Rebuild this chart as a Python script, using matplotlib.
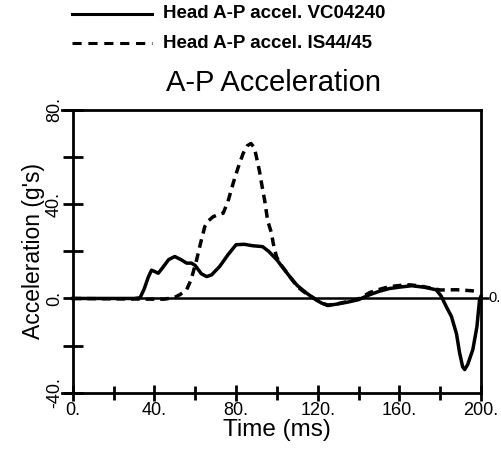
import matplotlib
matplotlib.use("Agg")
import matplotlib.pyplot as plt
from matplotlib.lines import Line2D
from matplotlib.ticker import FixedLocator

plt.rcParams['font.family'] = ['Liberation Sans', 'DejaVu Sans']

# Data (time in ms, acceleration in g's)
t_vc = [0, 30, 33, 35, 37, 38.6, 40, 41.9, 44, 47, 50, 53, 55.8, 58.2, 60, 63, 65.6, 68, 72, 76, 80,
        84, 88, 93, 96, 100, 103, 106.3, 110, 114.5, 119, 122, 125, 130, 135, 140, 145.5, 150, 155,
        160, 166, 172, 178, 180.5, 183, 185.5, 188, 189.5, 191, 192, 193.5, 196, 198, 199.3, 200]
a_vc = [0, 0, 0.3, 4, 9, 12, 11.5, 10.7, 13, 16.5, 17.8, 16.5, 15, 15, 14, 10.5, 9.3, 10, 13.6, 18.5, 22.8,
        23, 22.4, 22, 20, 16.4, 13, 9.3, 5.5, 2.3, -0.5, -2, -3, -2.3, -1.5, -0.5, 1.6, 3, 4.2,
        4.8, 5.4, 4.8, 3.7, 1, -3.5, -7.6, -15, -23, -29, -30.2, -28, -21.7, -12, -0.5, 1]

t_is = [0, 40, 45, 50, 52.5, 55.8, 58, 60.7, 62.5, 64.7, 66.5, 68.8, 71, 73.7, 76, 78.6, 81, 83.5, 85.5,
        87.3, 89, 90, 91.5, 92.5, 94, 95.5, 97.4, 98.2, 99.8, 101.4, 104, 106.3, 110, 114.5, 119, 122,
        125, 130, 135, 140, 145.5, 150, 155, 160, 165, 170, 175, 180, 188, 195, 199.3]
a_is = [0, -0.3, -0.3, 0.5, 1.6, 3.7, 8, 16.4, 23, 30.5, 33, 34.7, 35.5, 36.2, 41, 48.9, 55.5, 61.6, 64.8,
        65.8, 64, 60, 54, 48.9, 41.8, 33, 27.7, 23.5, 17.8, 15, 12, 9.3, 5, 2, -0.3, -2,
        -2.8, -2.2, -1.2, -0.2, 2.5, 3.8, 5, 5.5, 5.8, 5.3, 4.5, 3.6, 3.7, 3.3, 3]

x_major = [0, 40, 80, 120, 160, 200]
x_labels = ['0.', '40.', '80.', '120.', '160.', '200.']
x_minor = [20, 60, 100, 140, 180]
y_major = [80, 40, 0, -40]
y_labels = ['80.', '40.', '0.', '-40.']
y_minor = [60, 20, -20]

legend_labels = ['Head A-P accel. VC04240', 'Head A-P accel. IS44/45']
title = 'A-P Acceleration'

W, H = 501, 449
fig = plt.figure(figsize=(W / 100, H / 100), dpi=100)
ax = fig.add_axes([72.7 / W, 1 - 392.7 / H, (481 - 72.7) / W, (392.7 - 110) / H])

lw = 2.5
ax.plot(t_vc, a_vc, color='black', lw=lw, solid_joinstyle='round', clip_on=False, zorder=3)
ax.plot(t_is, a_is, color='black', lw=lw, dashes=(2.5, 1.7), clip_on=False, zorder=3)
ax.axhline(0, xmin=0, xmax=1.018, color='black', lw=1.8, clip_on=False, zorder=2)

ax.set_xlim(0, 200)
ax.set_ylim(-40, 80)

for s in ax.spines.values():
    s.set_linewidth(2.0)
# extend bottom/top lines slightly left like the reference
ax.axhline(-40, xmin=-0.026, xmax=0, color='black', lw=2.0, clip_on=False)
ax.axhline(80, xmin=-0.026, xmax=0, color='black', lw=2.0, clip_on=False)

ax.xaxis.set_major_locator(FixedLocator(x_major))
ax.xaxis.set_minor_locator(FixedLocator(x_minor))
ax.set_xticklabels(x_labels)
ax.yaxis.set_major_locator(FixedLocator(y_major))
ax.yaxis.set_minor_locator(FixedLocator(y_minor))
ax.set_yticklabels(y_labels, rotation=90, va='center')

ax.tick_params(axis='x', which='major', direction='inout', length=11, width=2, labelsize=13, pad=1)
ax.tick_params(axis='x', which='minor', direction='inout', length=10, width=2)
ax.tick_params(axis='y', which='major', direction='inout', length=14, width=2, labelsize=13, pad=0)
ax.tick_params(axis='y', which='minor', direction='inout', length=14, width=2)

ax.set_xlabel('Time (ms)', fontsize=17.5, labelpad=0)
ax.set_ylabel("Acceleration (g's)", fontsize=16.5, labelpad=1)

ax.text(1.019, 0, '0.', transform=ax.get_yaxis_transform(), fontsize=10.5, va='center', ha='left',
        clip_on=False)

# legend drawn manually
fig.add_artist(Line2D([72 / W, 152 / W], [1 - 14 / H, 1 - 14 / H], color='black', lw=2.2))
fig.add_artist(Line2D([72 / W, 152 / W], [1 - 43 / H, 1 - 43 / H], color='black', lw=2.2,
                      dashes=(3, 2.2)))
fig.text(163 / W, 1 - 14 / H, legend_labels[0], fontsize=13.5, fontweight='bold', va='center', ha='left')
fig.text(163 / W, 1 - 43 / H, legend_labels[1], fontsize=13.5, fontweight='bold', va='center', ha='left')
fig.text(274 / W, 1 - 83 / H, title, fontsize=21, va='center', ha='center')

fig.savefig('out.png', dpi=100)
